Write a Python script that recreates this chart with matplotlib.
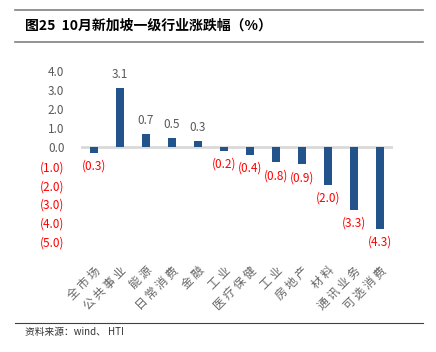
import matplotlib.pyplot as plt
from matplotlib.lines import Line2D

plt.rcParams['font.family'] = ['Noto Sans CJK SC', 'DejaVu Sans']

categories = ['全市场', '公共事业', '能源', '日常消费', '金融', '工业',
              '医疗保健', '工业', '房地产', '材料', '通讯业务', '可选消费']
values = [-0.3, 3.1, 0.7, 0.5, 0.3, -0.2, -0.4, -0.8, -0.9, -2.0, -3.3, -4.3]
yticks = [4, 3, 2, 1, 0, -1, -2, -3, -4, -5]

bar_color = '#22538a'
gray = '#595959'
red = '#ff0000'


def fmt(v):
    return '({:.1f})'.format(abs(v)) if v < 0 else '{:.1f}'.format(v)


fig = plt.figure(figsize=(4.36, 3.52), dpi=100)
ax = fig.add_axes([0.186, 0.3125, 0.715, 0.4855])

x = list(range(len(categories)))
ax.bar(x, values, width=0.3, color=bar_color, zorder=3)
ax.axhline(0, color='#d9d9d9', lw=2, zorder=2)

for xi, v in zip(x, values):
    if v >= 0:
        ax.annotate(fmt(v), (xi, v), xytext=(0, 5), textcoords='offset points',
                    ha='center', va='bottom', fontsize=8.5, color=gray)
    else:
        ax.annotate(fmt(v), (xi, v), xytext=(0, -5), textcoords='offset points',
                    ha='center', va='top', fontsize=8.5, color=red)

ax.set_xlim(-0.5, len(categories) - 0.5)
ax.set_ylim(-5, 4)
ax.set_yticks(yticks)
ax.set_yticklabels([fmt(v) for v in yticks], fontsize=8.5)
for lbl, v in zip(ax.get_yticklabels(), yticks):
    lbl.set_color(red if v < 0 else gray)

# spaced characters, like the original song-style labels
ax.set_xticks(x)
ax.set_xticklabels([' '.join(c) for c in categories], rotation=45, ha='right', va='top',
                   rotation_mode='anchor', fontsize=8.5, color='#666666')
ax.tick_params(axis='x', length=0, pad=16)
ax.tick_params(axis='y', length=0, pad=12)
for s in ax.spines.values():
    s.set_visible(False)

# title block and source
fig.add_artist(Line2D([15 / 436, 423 / 436], [1 - 10 / 352] * 2, color='#808080', lw=1.2))
fig.add_artist(Line2D([15 / 436, 423 / 436], [1 - 42 / 352] * 2, color='#808080', lw=1.2))
fig.text(25 / 436, 1 - 26 / 352, '图25  10月新加坡一级行业涨跌幅（%）',
         fontsize=10, fontweight='bold', va='center', ha='left')
fig.add_artist(Line2D([15 / 436, 423 / 436], [1 - 323 / 352] * 2, color='#404040', lw=0.8))
fig.text(25 / 436, 1 - 332 / 352, '资料来源：wind、 HTI', fontsize=7,
         va='center', ha='left', color='#333333')

fig.savefig('out.png', dpi=100)
